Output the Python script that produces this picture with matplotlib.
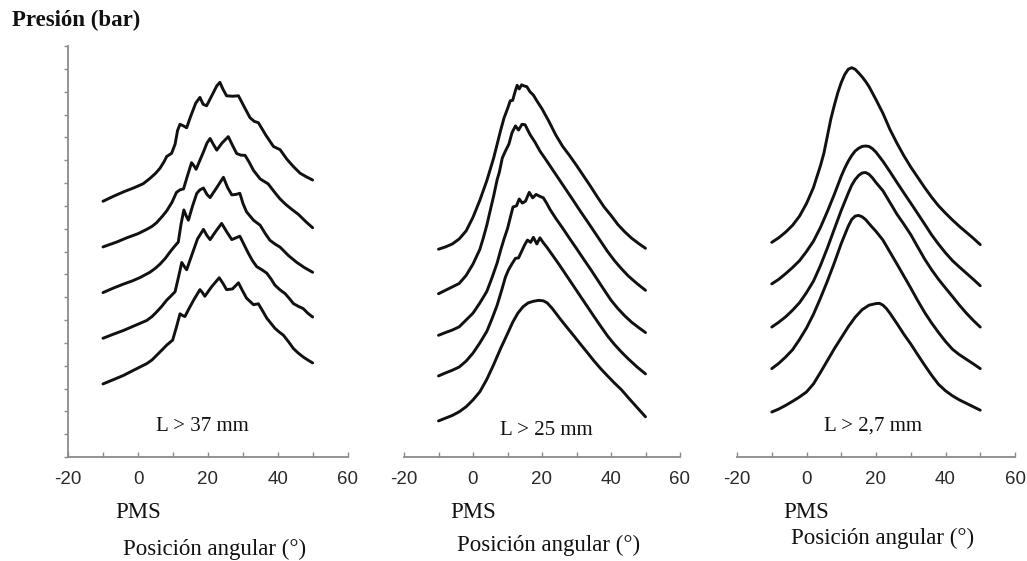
import matplotlib
matplotlib.use("Agg")
import matplotlib.pyplot as plt
from matplotlib.ticker import MultipleLocator

plt.rcParams['axes.unicode_minus'] = False

# Panel 1: L > 37 mm  (x = posicion angular in deg, y = presion, offset traces)
p1_x1 = [-10, -7, -4, -1, 1.5, 3.4, 5, 6.3, 7.5, 8.2, 9.6, 10.6, 11.3, 12.0, 13.0, 13.9, 15, 16.5, 17.7, 18.6, 19.6, 21, 22.5, 23.4, 24.3, 25.3, 27, 28.7, 30.3, 32, 33.2, 34.4, 36.5, 38.7, 40.6, 42.5, 44.4, 46.3, 48, 49.9]
p1_y1 = [11.2, 11.42, 11.62, 11.8, 11.97, 12.2, 12.42, 12.65, 12.95, 13.16, 13.3, 13.7, 14.3, 14.57, 14.5, 14.42, 14.9, 15.5, 15.75, 15.45, 15.38, 15.8, 16.25, 16.41, 16.1, 15.82, 15.8, 15.82, 15.35, 14.86, 14.7, 14.64, 14.1, 13.6, 13.46, 13.05, 12.72, 12.43, 12.28, 12.13]
p1_x2 = [-10, -6, -3.2, 0, 2.5, 4, 5.3, 7, 8.2, 9.7, 11, 12, 13, 14.3, 15.3, 16, 16.6, 17.7, 18.7, 19.7, 20.6, 21.5, 22.5, 24, 25.8, 27, 28.2, 29.4, 30.6, 31.8, 33, 34.9, 37.2, 39, 40.6, 42.3, 43.9, 45.8, 48, 49.9]
p1_y2 = [9.2, 9.42, 9.6, 9.78, 9.97, 10.1, 10.26, 10.55, 10.78, 11.15, 11.59, 11.7, 11.74, 12.4, 12.89, 12.75, 12.6, 13.0, 13.36, 13.75, 13.95, 13.7, 13.44, 13.75, 14.03, 13.65, 13.29, 13.22, 13.21, 12.9, 12.55, 12.18, 11.96, 11.6, 11.3, 11.05, 10.85, 10.63, 10.3, 10.04]
p1_x3 = [-10, -7, -4.2, -1.5, 0.6, 3.4, 5, 6.3, 7.8, 9.1, 10.3, 11.5, 12.3, 13.1, 13.8, 14.4, 15.6, 16.8, 17.7, 18.7, 19.7, 20.6, 22.5, 24.4, 25.6, 26.8, 28, 29.1, 30, 31, 33, 34.9, 36.3, 37.7, 39.2, 40.6, 43, 45.3, 47.5, 49.9]
p1_y3 = [7.2, 7.4, 7.57, 7.72, 7.86, 8.09, 8.27, 8.45, 8.7, 8.97, 9.2, 9.41, 10.2, 10.82, 10.55, 10.37, 11.0, 11.55, 11.7, 11.78, 11.5, 11.36, 11.8, 12.25, 11.8, 11.48, 11.5, 11.55, 11.1, 10.74, 10.37, 10.15, 9.8, 9.49, 9.32, 9.19, 8.82, 8.53, 8.3, 8.09]
p1_x4 = [-10, -7, -4.2, -1, 2.5, 4, 5.3, 6.8, 8.2, 9.4, 10.6, 11.6, 12.5, 13.2, 13.9, 15.5, 17, 18.7, 19.7, 20.6, 22.3, 23.9, 25.4, 26.8, 28, 29.1, 30.3, 31.5, 32.7, 33.9, 35.4, 36.8, 38, 39.1, 40.5, 42, 43.2, 44.4, 45.8, 47.2, 48.5, 49.9]
p1_y4 = [5.2, 5.38, 5.54, 5.75, 5.98, 6.15, 6.35, 6.6, 6.87, 7.05, 7.24, 7.9, 8.52, 8.35, 8.2, 8.9, 9.55, 9.97, 9.7, 9.52, 9.9, 10.23, 9.85, 9.52, 9.6, 9.67, 9.3, 8.93, 8.6, 8.34, 8.2, 8.05, 7.8, 7.53, 7.33, 7.16, 6.95, 6.72, 6.6, 6.5, 6.3, 6.13]
p1_x5 = [-10, -7, -4.2, -1, 2.5, 4, 5.3, 6.8, 8.2, 9.9, 11, 12, 12.7, 13.4, 14.4, 16, 17.7, 18.4, 19.1, 21, 23.2, 24.3, 25.3, 27, 28.7, 29.8, 31, 33, 34.4, 35.6, 36.8, 38, 39.1, 40.3, 41.5, 43, 44.4, 45.8, 47.2, 48.5, 49.9]
p1_y5 = [3.2, 3.39, 3.57, 3.82, 4.09, 4.25, 4.45, 4.68, 4.9, 5.12, 5.7, 6.27, 6.2, 6.15, 6.45, 6.9, 7.33, 7.2, 7.04, 7.45, 7.85, 7.6, 7.33, 7.36, 7.63, 7.3, 6.96, 6.67, 6.71, 6.4, 6.08, 5.85, 5.64, 5.48, 5.34, 5.05, 4.75, 4.55, 4.38, 4.25, 4.12]

# Panel 2: L > 25 mm
p2_x1 = [-10, -8, -6, -4, -2, 0, 2, 4, 6, 7, 8, 9, 10, 10.8, 11.5, 12.2, 12.8, 13.4, 14.1, 14.8, 15.6, 16.5, 17.5, 18.5, 20, 22, 24, 26, 28, 30, 32, 34, 36, 38, 40, 42, 44, 46, 48, 50]
p2_y1 = [9.1, 9.2, 9.33, 9.55, 9.9, 10.5, 11.25, 12.1, 13.1, 13.7, 14.3, 14.85, 15.25, 15.6, 15.62, 16.0, 16.28, 16.12, 16.3, 16.25, 16.22, 16.0, 15.85, 15.6, 15.25, 14.7, 14.1, 13.6, 13.2, 12.77, 12.32, 11.87, 11.4, 10.95, 10.58, 10.18, 9.86, 9.58, 9.35, 9.14]
p2_x2 = [-10, -8, -6, -4, -2, 0, 2, 3, 4, 5, 6, 7, 7.6, 8.5, 9.4, 10.4, 11.3, 12.3, 13.2, 14.2, 15.1, 16.5, 18, 19.4, 21, 23, 25, 27, 29, 31, 33, 35, 37, 39, 41, 43, 45, 47.5, 50]
p2_y2 = [7.15, 7.3, 7.45, 7.6, 7.95, 8.45, 9.1, 9.6, 10.15, 10.8, 11.44, 12.15, 12.45, 13.1, 13.4, 13.7, 14.2, 14.5, 14.32, 14.57, 14.55, 14.13, 13.78, 13.4, 13.05, 12.6, 12.15, 11.7, 11.25, 10.79, 10.35, 9.9, 9.45, 9.0, 8.6, 8.25, 7.93, 7.6, 7.3]
p2_x3 = [-10, -8, -6, -4, -2, 0, 2, 4, 5.5, 7, 8, 9, 10, 11, 11.6, 12.6, 13.4, 14.3, 15.2, 16.3, 17.3, 18.3, 19.3, 20.4, 21.4, 22.3, 24, 26, 28, 30, 32, 34, 36, 38, 40, 42, 44, 46, 48, 50]
p2_y3 = [5.33, 5.45, 5.56, 5.7, 6.0, 6.3, 6.75, 7.25, 7.85, 8.5, 9.05, 9.55, 10.0, 10.6, 10.95, 11.0, 11.3, 11.12, 11.2, 11.59, 11.35, 11.5, 11.42, 11.35, 11.1, 10.85, 10.45, 10.02, 9.57, 9.13, 8.68, 8.24, 7.78, 7.32, 6.87, 6.5, 6.18, 5.9, 5.67, 5.45]
p2_x4 = [-10, -8, -6, -4, -2, 0, 2, 4, 5.5, 7, 8.3, 9.4, 10.3, 11.3, 12.3, 13.2, 14.2, 15, 15.8, 16.7, 17.5, 18.5, 19.4, 20.3, 21.4, 23, 25, 27, 29, 31, 33, 35, 37, 39, 41, 43, 45, 47.5, 50]
p2_y4 = [3.55, 3.68, 3.8, 3.94, 4.2, 4.55, 5.0, 5.5, 6.05, 6.65, 7.3, 7.88, 8.2, 8.46, 8.7, 8.72, 9.04, 9.3, 9.5, 9.4, 9.62, 9.33, 9.6, 9.4, 9.19, 8.85, 8.42, 7.97, 7.52, 7.07, 6.62, 6.17, 5.73, 5.3, 4.93, 4.6, 4.3, 3.95, 3.64]
p2_x5 = [-10, -8, -6, -4, -2, 0, 2, 4, 6, 8, 10, 11.5, 13, 14.5, 16, 17.5, 19, 20.4, 21.5, 23, 25, 27, 29, 31, 33, 35, 37, 39, 41, 43, 45, 47.5, 50]
p2_y5 = [1.58, 1.7, 1.82, 1.98, 2.2, 2.5, 2.86, 3.4, 4.05, 4.75, 5.4, 5.9, 6.3, 6.58, 6.75, 6.82, 6.86, 6.84, 6.75, 6.5, 6.1, 5.72, 5.35, 4.97, 4.6, 4.22, 3.87, 3.55, 3.24, 2.95, 2.6, 2.18, 1.76]

# Panel 3: L > 2,7 mm
p3_x1 = [-10, -8, -6, -4, -2, 0, 2, 4, 5, 6, 7, 8, 9, 10, 11, 12, 13, 14, 15, 16, 17, 18, 20, 22, 24, 26, 28, 30, 32, 34, 36, 38, 40, 42, 44, 46, 48, 50]
p3_y1 = [9.4, 9.6, 9.85, 10.15, 10.55, 11.1, 11.8, 12.75, 13.3, 14.05, 14.8, 15.4, 15.95, 16.4, 16.75, 16.98, 17.05, 16.98, 16.82, 16.65, 16.45, 16.22, 15.65, 15.05, 14.35, 13.75, 13.2, 12.7, 12.25, 11.8, 11.38, 11.0, 10.68, 10.38, 10.1, 9.84, 9.58, 9.3]
p3_x2 = [-10, -8, -6, -4, -2, 0, 2, 4, 6, 8, 10, 11, 12, 13, 14, 15, 16, 17, 18, 19, 20, 21, 22, 24, 26, 28, 30, 32, 34, 36, 38, 40, 42, 44, 46, 48, 50]
p3_y2 = [7.58, 7.78, 8.03, 8.3, 8.6, 9.0, 9.45, 10.05, 10.75, 11.5, 12.3, 12.65, 12.95, 13.2, 13.4, 13.52, 13.6, 13.62, 13.6, 13.5, 13.35, 13.15, 12.95, 12.5, 12.03, 11.57, 11.12, 10.66, 10.2, 9.73, 9.32, 8.94, 8.6, 8.32, 8.05, 7.78, 7.5]
p3_x3 = [-10, -8, -6, -4, -2, 0, 2, 4, 6, 8, 10, 12, 13, 14, 15, 16, 17, 18, 19, 20, 22, 24, 26, 28, 30, 32, 34, 36, 38, 40, 42, 44, 46, 48, 50]
p3_y3 = [5.69, 5.9, 6.14, 6.43, 6.76, 7.2, 7.7, 8.38, 9.15, 9.98, 10.8, 11.55, 11.9, 12.15, 12.33, 12.44, 12.46, 12.38, 12.22, 12.02, 11.66, 11.15, 10.64, 10.2, 9.74, 9.2, 8.67, 8.2, 7.78, 7.4, 7.03, 6.65, 6.3, 5.98, 5.69]
p3_x4 = [-10, -8, -6, -4, -2, 0, 2, 4, 6, 8, 10, 12, 13, 14, 15, 16, 17, 18, 20, 22, 24, 26, 28, 30, 32, 34, 36, 38, 40, 42, 44, 46, 48, 50]
p3_y4 = [3.87, 4.1, 4.38, 4.7, 5.15, 5.65, 6.25, 6.95, 7.7, 8.5, 9.35, 10.1, 10.4, 10.55, 10.58, 10.52, 10.4, 10.22, 9.88, 9.5, 8.98, 8.46, 7.93, 7.4, 6.85, 6.33, 5.87, 5.45, 5.06, 4.72, 4.48, 4.28, 4.08, 3.87]
p3_x5 = [-10, -8, -6, -4, -2, 0, 2, 4, 6, 8, 10, 12, 14, 16, 18, 20, 21, 22, 23, 24, 26, 28, 30, 32, 34, 36, 38, 40, 42, 44, 46, 48, 50]
p3_y5 = [1.97, 2.1, 2.26, 2.44, 2.63, 2.85, 3.2, 3.7, 4.22, 4.74, 5.22, 5.7, 6.12, 6.45, 6.65, 6.72, 6.73, 6.65, 6.5, 6.3, 5.85, 5.38, 4.95, 4.48, 4.02, 3.58, 3.18, 2.9, 2.68, 2.5, 2.35, 2.2, 2.05]

panel_labels = ["L > 37 mm", "L > 25 mm", "L > 2,7 mm"]
label_x = [18.3, 21.2, 19.2]
xticks = [-20, 0, 20, 40, 60]

curves = [
    [(p1_x1, p1_y1), (p1_x2, p1_y2), (p1_x3, p1_y3), (p1_x4, p1_y4), (p1_x5, p1_y5)],
    [(p2_x1, p2_y1), (p2_x2, p2_y2), (p2_x3, p2_y3), (p2_x4, p2_y4), (p2_x5, p2_y5)],
    [(p3_x1, p3_y1), (p3_x2, p3_y2), (p3_x3, p3_y3), (p3_x4, p3_y4), (p3_x5, p3_y5)],
]

serif = "Liberation Serif"
sans = "Liberation Sans"
axcol = "#8a8a8a"

fig = plt.figure(figsize=(10.27, 5.61), dpi=100)
lefts = [68/1027, 404/1027, 737/1027]
widths = [280/1027, 276/1027, 278/1027]
bottom = (561-457)/561
height = 411/561
label_y = [1.35, 1.18, 1.35]
post_y = [-0.225, -0.215, -0.198]

for i in range(3):
    ax = fig.add_axes([lefts[i], bottom, widths[i], height])
    for xs, ys in curves[i]:
        ax.plot(xs, ys, color="#111111", lw=2.1, solid_joinstyle="round", solid_capstyle="round")
    ax.set_xlim(-20, 60)
    ax.set_ylim(0, 18)
    ax.spines["top"].set_visible(False)
    ax.spines["right"].set_visible(False)
    ax.spines["bottom"].set_color(axcol)
    ax.spines["bottom"].set_linewidth(1.3)
    ax.set_xticks(xticks)
    ax.xaxis.set_minor_locator(MultipleLocator(10))
    ax.tick_params(axis="x", which="both", direction="in", length=3.5, width=1.0, color=axcol,
                   pad=10, labelsize=13.5, labelcolor="#2a2a2a")
    for lab in ax.get_xticklabels():
        lab.set_fontfamily(sans)
    if i == 0:
        ax.spines["left"].set_color(axcol)
        ax.spines["left"].set_linewidth(1.3)
        ax.set_yticks(range(0, 19))
        ax.tick_params(axis="y", direction="out", length=3, width=1.0, color=axcol, labelleft=False)
    else:
        ax.spines["left"].set_visible(False)
        ax.set_yticks([])
    ax.text(label_x[i], label_y[i], panel_labels[i], ha="center", va="center",
            fontsize=15, family=serif, color="#111111")
    tr = ax.get_xaxis_transform()
    ax.text(0, -0.135, "PMS", transform=tr, ha="center", va="center",
            fontsize=16.5, family=serif, color="#111111")
    ax.text(22, post_y[i], "Posición angular (°)", transform=tr, ha="center", va="center",
            fontsize=16.5, family=serif, color="#111111")

fig.text(12/1027, 1 - 20/561, "Presión (bar)", ha="left", va="center",
         fontsize=16.5, fontweight="bold", family=serif, color="#111111")

fig.savefig("out.png", dpi=100, facecolor="white")
